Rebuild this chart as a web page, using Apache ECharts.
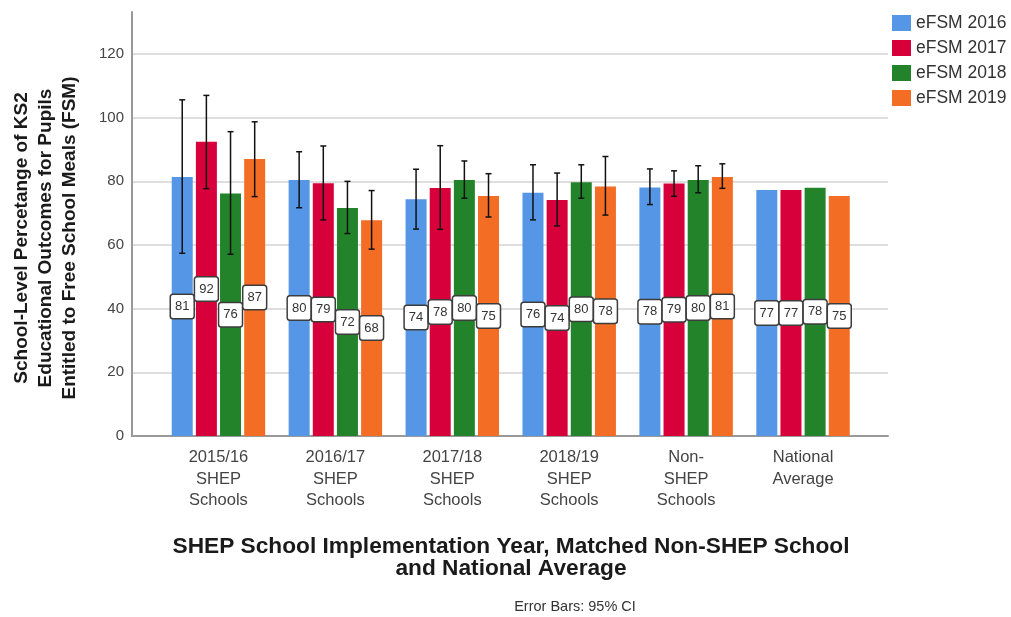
<!DOCTYPE html>
<html><head><meta charset="utf-8">
<script src="https://cdn.jsdelivr.net/npm/echarts@6/dist/echarts.min.js"></script>
<style>html,body{margin:0;padding:0;background:#fff}#c{width:1011px;height:617px}</style>
</head><body><div id="c"></div>
<script>
// ---- data ----
const categories = ['2015/16\nSHEP\nSchools', '2016/17\nSHEP\nSchools', '2017/18\nSHEP\nSchools', '2018/19\nSHEP\nSchools', 'Non-\nSHEP\nSchools', 'National\nAverage'];
const seriesNames = ['eFSM 2016', 'eFSM 2017', 'eFSM 2018', 'eFSM 2019'];
const values2016 = [81.4, 80.4, 74.4, 76.4, 78.1, 77.3];
const values2017 = [92.4, 79.4, 77.9, 74.1, 79.3, 77.3];
const values2018 = [76.2, 71.6, 80.4, 79.7, 80.4, 78.0];
const values2019 = [87.0, 67.8, 75.4, 78.4, 81.4, 75.4];
const low2016  = [57.4, 71.7, 65.0, 67.9, 72.7, null];
const high2016 = [105.6, 89.3, 83.8, 85.2, 83.9, null];
const low2017  = [77.7, 67.9, 64.9, 66.0, 75.3, null];
const high2017 = [107.0, 91.1, 91.2, 82.6, 83.3, null];
const low2018  = [57.1, 63.6, 74.7, 74.7, 76.4, null];
const high2018 = [95.6, 80.0, 86.4, 85.2, 84.9, null];
const low2019  = [75.2, 58.7, 68.8, 69.4, 77.8, null];
const high2019 = [98.7, 77.1, 82.4, 87.8, 85.5, null];
const yMin = 0, yMax = 120, yInterval = 20;
const yTitle = 'School-Level Percetange of KS2\nEducational Outcomes for Pupils\nEntitled to Free School Meals (FSM)';
const xTitle = 'SHEP School Implementation Year, Matched Non-SHEP School\nand National Average';
const noteText = 'Error Bars: 95% CI';

// ---- styles ----
const colors = ['#5596e6', '#d7003a', '#23832b', '#f36d25'];
const SANS = "'Liberation Sans',Arial,sans-serif";
const BAR_W = 21, BAR_GAP = 0.15;
const PITCH = BAR_W * (1 + BAR_GAP);

const valueSets = [values2016, values2017, values2018, values2019];
const lowSets = [low2016, low2017, low2018, low2019];
const highSets = [high2016, high2017, high2018, high2019];

function errRender(k) {
  return function (params, api) {
    const i = api.value(0);
    const lo = api.coord([i, api.value(1)]);
    const hi = api.coord([i, api.value(2)]);
    const x = lo[0] + (k - 1.5) * PITCH;
    const cap = 3;
    const st = { stroke: '#111', lineWidth: 1.5 };
    return {
      type: 'group', children: [
        { type: 'line', shape: { x1: x, y1: hi[1], x2: x, y2: lo[1] }, style: st },
        { type: 'line', shape: { x1: x - cap, y1: hi[1], x2: x + cap, y2: hi[1] }, style: st },
        { type: 'line', shape: { x1: x - cap, y1: lo[1], x2: x + cap, y2: lo[1] }, style: st }
      ]
    };
  };
}

const series = [];
seriesNames.forEach((name, k) => {
  series.push({
    name: name, type: 'bar', xAxisIndex: 2, yAxisIndex: 2,
    data: valueSets[k], barWidth: BAR_W, barGap: (BAR_GAP * 100) + '%',
    itemStyle: { color: colors[k] },
    label: {
      show: true, position: 'inside',
      formatter: p => String(Math.round(p.value)),
      backgroundColor: '#fff', borderColor: '#3c3c3c', borderWidth: 1.5, borderRadius: 2,
      padding: [5, 4], fontSize: 13, color: '#333', fontFamily: SANS
    },
    z: 2
  });
});
seriesNames.forEach((name, k) => {
  const d = categories.map((c, i) => lowSets[k][i] == null ? null : [i, lowSets[k][i], highSets[k][i]]).filter(Boolean);
  series.push({
    name: name + ' CI', type: 'custom', xAxisIndex: 2, yAxisIndex: 2,
    renderItem: errRender(k), data: d, encode: { x: 0, y: [1, 2] }, z: 3, silent: true
  });
});

const chart = echarts.init(document.getElementById('c'), null, { renderer: 'canvas' });
chart.setOption({
  animation: false,
  backgroundColor: '#fff',
  grid: [
    { left: 132, right: 123, top: 54, bottom: 181 },
    { left: 132, right: 123, top: 12, bottom: 181 },
    { left: 160, right: 149.5, top: 54, bottom: 181 }
  ],
  legend: {
    data: seriesNames, orient: 'vertical', left: 892, top: 14, padding: 0,
    itemWidth: 19, itemHeight: 16, itemGap: 7, icon: 'rect',
    textStyle: { fontSize: 17.5, color: '#333', fontFamily: SANS }
  },
  xAxis: [
    { gridIndex: 0, type: 'value', min: 0, max: 1, axisLine: { show: true, lineStyle: { color: '#999', width: 2 } },
      axisTick: { show: false }, axisLabel: { show: false }, splitLine: { show: false } },
    { gridIndex: 1, type: 'value', min: 0, max: 1, show: false },
    { gridIndex: 2, type: 'category', data: categories,
      axisLine: { show: false }, axisTick: { show: false },
      axisLabel: { fontSize: 16.5, lineHeight: 21.5, color: '#444', margin: 11, fontFamily: SANS, interval: 0 } }
  ],
  yAxis: [
    { gridIndex: 0, type: 'value', min: yMin, max: yMax, interval: yInterval,
      axisLine: { show: false }, axisTick: { show: false },
      splitLine: { show: true, lineStyle: { color: '#d3d3d3', width: 1.5 } },
      axisLabel: { fontSize: 15, color: '#444', margin: 8, fontFamily: SANS } },
    { gridIndex: 1, type: 'value', min: 0, max: 1,
      axisLine: { show: true, lineStyle: { color: '#999', width: 2 } },
      axisTick: { show: false }, axisLabel: { show: false }, splitLine: { show: false } },
    { gridIndex: 2, type: 'value', min: yMin, max: yMax, show: false }
  ],
  graphic: [
    { type: 'text', x: 46, y: 238, rotation: Math.PI / 2,
      style: { text: yTitle, align: 'center', verticalAlign: 'middle', fontSize: 19, fontWeight: 'bold',
        lineHeight: 24, fill: '#1a1a1a', fontFamily: SANS } },
    { type: 'text', x: 511, y: 558,
      style: { text: xTitle, align: 'center', verticalAlign: 'middle', fontSize: 22.7, fontWeight: 'bold',
        lineHeight: 22, fill: '#1a1a1a', fontFamily: SANS } },
    { type: 'text', x: 575, y: 607,
      style: { text: noteText, align: 'center', verticalAlign: 'middle', fontSize: 14.5,
        fill: '#333', fontFamily: SANS } }
  ],
  series: series
});
</script></body></html>
